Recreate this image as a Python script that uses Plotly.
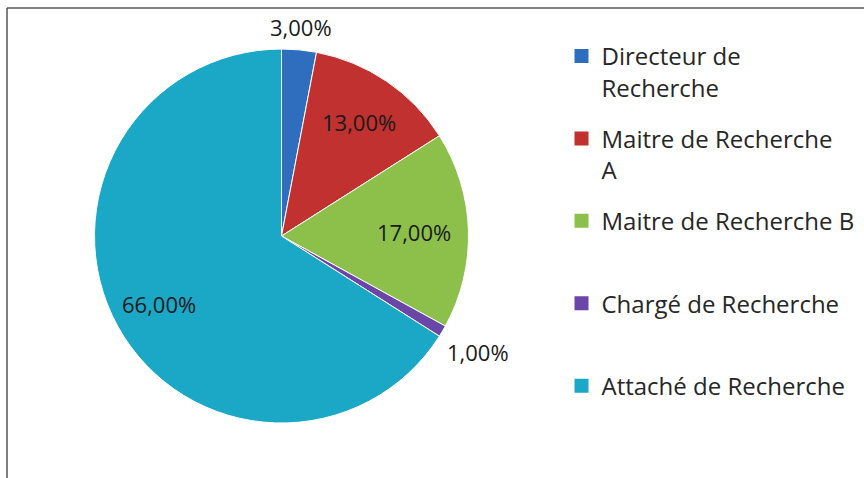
import math
import plotly.graph_objects as go

# ---- data ----
categories = ["Directeur de Recherche", "Maitre de Recherche A", "Maitre de Recherche B",
              "Chargé de Recherche", "Attaché de Recherche"]
legend_labels = ["Directeur de<br>Recherche", "Maitre de Recherche<br>A",
                 "Maitre de Recherche B<br> ", "Chargé de Recherche<br> ",
                 "Attaché de Recherche<br> "]
values = [3, 13, 17, 1, 66]
value_labels = ["3,00%", "13,00%", "17,00%", "1,00%", "66,00%"]

# ---- style ----
colors = ["#2F6EBF", "#C0312F", "#8CC04B", "#6A46A8", "#1BA8C6"]
label_radius = [1.12, 0.74, 0.71, 1.22, 0.75]

W, H = 864, 478
cx, cy, R = 281.5, 236.0, 187.0

fig = go.Figure()
fig.add_trace(go.Pie(
    labels=categories, values=values, sort=False, direction="clockwise", rotation=0,
    marker=dict(colors=colors, line=dict(color="white", width=1)),
    textinfo="none", hoverinfo="skip", showlegend=False,
    domain=dict(x=[(cx - R) / W, (cx + R) / W], y=[(H - cy - R) / H, (H - cy + R) / H]),
))

# legend entries
for i, (lab, col) in enumerate(zip(legend_labels, colors)):
    fig.add_trace(go.Scatter(
        x=[None], y=[None], mode="markers", name=lab, legendgroup=str(i),
        marker=dict(symbol="square", size=14, color=col), showlegend=True,
    ))

# data labels computed from slice mid-angles
total = sum(values)
cum = 0.0
annotations = []
for v, txt, rf in zip(values, value_labels, label_radius):
    theta = (cum + v / 2) / total * 2 * math.pi
    cum += v
    xp = cx + rf * R * math.sin(theta)
    yp = cy - rf * R * math.cos(theta)
    annotations.append(dict(x=xp / W, y=1 - yp / H, xref="paper", yref="paper",
                            xanchor="center", yanchor="middle",
                            text=txt, showarrow=False,
                            font=dict(family="Open Sans", size=22, color="#1a1a1a")))

fr = "#555555"
shapes = [
    dict(type="line", xref="paper", yref="paper", x0=7 / W, x1=1, y0=1 - 8 / H, y1=1 - 8 / H,
         line=dict(color=fr, width=1.5)),
    dict(type="line", xref="paper", yref="paper", x0=7 / W, x1=7 / W, y0=0, y1=1 - 8 / H,
         line=dict(color=fr, width=1.5)),
]

fig.update_layout(
    width=W, height=H, margin=dict(l=0, r=0, t=0, b=0),
    paper_bgcolor="white", plot_bgcolor="white",
    xaxis=dict(visible=False), yaxis=dict(visible=False),
    annotations=annotations, shapes=shapes,
    legend=dict(x=(581.5 - 20) / W, y=0.929, xanchor="left", yanchor="top",
                valign="top", tracegroupgap=17, bgcolor="rgba(0,0,0,0)",
                font=dict(family="Open Sans", size=24, color="#262626")),
    showlegend=True,
)

fig.write_html("out.html", config={"displayModeBar": False},
               post_script="document.body.style.margin='0';")
